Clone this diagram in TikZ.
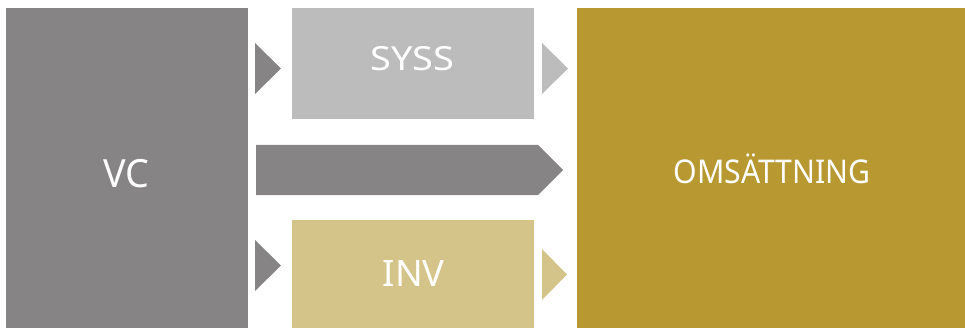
\documentclass[tikz,border=0pt]{standalone}
\usepackage{fontspec}
\setmainfont{Noto Sans}
\definecolor{vcgray}{HTML}{868484}
\definecolor{syssgray}{HTML}{BCBCBC}
\definecolor{invtan}{HTML}{D5C48A}
\definecolor{omsgold}{HTML}{B79831}
\newcommand{\fitlbl}[3]{\resizebox{#1}{#2}{\smash{#3}\vphantom{H}}}
\begin{document}
\begin{tikzpicture}[x=0.75pt,y=-0.75pt,
  boxlbl/.style={anchor=base,text=white,font=\fontsize{22}{26}\selectfont,inner sep=0pt}]
\useasboundingbox (0,0) rectangle (965,328);
% boxes
\fill[vcgray]   (6,8) rectangle (248,328);
\fill[syssgray] (292,8) rectangle (534,119);
\fill[invtan]   (292,220) rectangle (534,328);
\fill[omsgold]  (577,8) rectangle (965,328);
% chevrons
\fill[vcgray]   (255,43) -- (281,68.5) -- (255,94) -- cycle;
\fill[syssgray] (542,43) -- (568,68.5) -- (542,94) -- cycle;
\fill[vcgray]   (255,240) -- (281,265.5) -- (255,291) -- cycle;
\fill[invtan]   (542,249) -- (567,274.5) -- (542,300) -- cycle;
\fill[vcgray]   (256,145) -- (538,145) -- (563,170) -- (538,195) -- (256,195) -- cycle;
% labels
\node[boxlbl] (tvc)   at (126.7,187.7) {\fitlbl{34.5pt}{20.8pt}{VC}};
\node[boxlbl] (tsyss) at (412.2,71)    {\fitlbl{63pt}{17.8pt}{SYSS}};
\node[boxlbl] (tinv)  at (413.7,286)   {\fitlbl{46.5pt}{19.5pt}{INV}};
\node[boxlbl] (toms)  at (772,183.3)   {\fitlbl{147.75pt}{17.5pt}{OMSÄTTNING}};
\end{tikzpicture}
\end{document}
